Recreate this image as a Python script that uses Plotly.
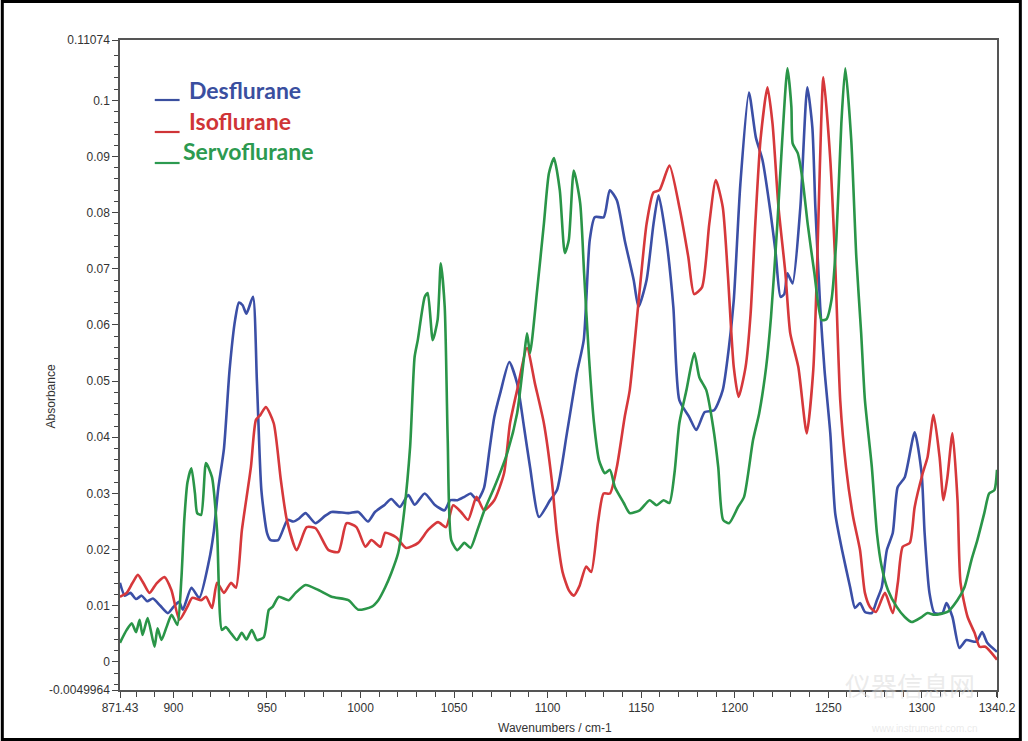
import plotly.graph_objects as go

# ---------------- data ----------------
des_x = [871.4, 874, 877, 880, 883, 886, 889, 893, 897, 900, 903, 905, 909.6, 913.8, 919, 921.5, 924, 927,
         930, 933, 935, 937, 939, 942.5, 944.6, 947, 950, 951.9, 956, 961, 964, 967, 970.6, 975.9, 981, 984.5,
         993.5, 998.8, 1004, 1007.7, 1013, 1016.4, 1021, 1025.5, 1029, 1034.3, 1039.6, 1044.9, 1048, 1051.8,
         1055.5, 1058.8, 1062.5, 1066, 1068.9, 1071.5, 1074.7, 1079.5, 1083.7, 1087.4, 1090.6, 1095.4, 1101.3,
         1105, 1110.3, 1115.6, 1119.3, 1122.5, 1125.2, 1130, 1133.2, 1137, 1141.2, 1146, 1148.6, 1152.9, 1156.6,
         1159.3, 1163.5, 1167.2, 1170.4, 1175.7, 1179.5, 1184, 1189, 1193.6, 1196.9, 1199.5, 1203, 1207.6, 1211.3,
         1214.9, 1219.2, 1221.9, 1224.5, 1226.5, 1228.2, 1230.9, 1235.1, 1238.8, 1241.5, 1243.1, 1245.7, 1248,
         1251.1, 1253.7, 1257.4, 1261.7, 1264.3, 1267, 1269.6, 1273.3, 1276, 1278.6, 1281.3, 1284.5, 1287.1,
         1290.9, 1296.2, 1299.9, 1301.5, 1304.1, 1306.8, 1311, 1313.2, 1316.4, 1320.1, 1323.8, 1329.1, 1332.3,
         1335, 1340.2]
des_y = [0.0141, 0.0118, 0.0123, 0.0112, 0.0118, 0.0108, 0.0113, 0.0100, 0.0087, 0.0098, 0.0107, 0.0093, 0.0132,
         0.0114, 0.018, 0.023, 0.031, 0.038, 0.052, 0.061, 0.064, 0.0635, 0.062, 0.065, 0.050, 0.0306, 0.023,
         0.0217, 0.0217, 0.0253, 0.0250, 0.0255, 0.0265, 0.0247, 0.026, 0.0267, 0.0265, 0.0267, 0.025, 0.0267,
         0.028, 0.029, 0.0276, 0.0297, 0.028, 0.030, 0.028, 0.027, 0.0288, 0.0288, 0.0294, 0.030, 0.0288, 0.031,
         0.0377, 0.0436, 0.0479, 0.0534, 0.0496, 0.0418, 0.0347, 0.0258, 0.0288, 0.0306, 0.0407, 0.0514, 0.0573,
         0.0751, 0.0792, 0.0792, 0.084, 0.0822, 0.0751, 0.068, 0.0632, 0.068, 0.078, 0.0831, 0.0751, 0.0632,
         0.0466, 0.0436, 0.0413, 0.0445, 0.0448, 0.0484, 0.056, 0.0644, 0.085, 0.1014, 0.0934, 0.0893, 0.0799,
         0.0728, 0.065, 0.0655, 0.0692, 0.0674, 0.081, 0.1023, 0.0952, 0.081, 0.0632, 0.052, 0.0407, 0.0265,
         0.0199, 0.0133, 0.0096, 0.0105, 0.0089, 0.0087, 0.011, 0.0133, 0.0199, 0.023, 0.0311, 0.0329, 0.0409,
         0.0336, 0.023, 0.0123, 0.0087, 0.0087, 0.0105, 0.008, 0.0025, 0.0039, 0.0036, 0.0053, 0.0034, 0.0018]

iso_x = [871.4, 875, 878, 881, 884, 887.2, 891, 895.2, 898.9, 903.2, 907.4, 910, 914.8, 917.4, 920.6, 923.3, 927,
         930.8, 933.4, 936.6, 941.4, 944.1, 946.5, 949.4, 953.6, 957.4, 960.6, 965.9, 971.2, 976, 982.9, 988.2,
         992.5, 997.8, 1002.6, 1005.8, 1010.6, 1013.2, 1019, 1024.4, 1030.8, 1036.1, 1041.4, 1045.7, 1049.5,
         1053.7, 1057.5, 1062, 1066, 1071.5, 1076.7, 1079.9, 1083.7, 1089, 1093.2, 1098, 1102.2, 1104.9, 1108,
         1111.3, 1114, 1117, 1120.6, 1123.3, 1127, 1129.9, 1133.3, 1137, 1141.2, 1143.9, 1149.2, 1152.9, 1156.6,
         1159.8, 1165.1, 1170.4, 1175.2, 1178.3, 1182.5, 1186.4, 1189.9, 1193.6, 1196.3, 1199.5, 1202.1, 1205.8,
         1208.5, 1211, 1213.8, 1217.5, 1220.2, 1223.4, 1227.1, 1229.7, 1234, 1238.5, 1242, 1244, 1245.5, 1247.4,
         1251, 1253.6, 1256.4, 1259.5, 1263.3, 1267, 1269.6, 1272.3, 1275.5, 1280.3, 1284.5, 1287.2, 1289.8,
         1293.6, 1296.2, 1300.5, 1303.1, 1306.3, 1309.5, 1311.6, 1313.7, 1316.4, 1319.1, 1320.7, 1324.5, 1328.2,
         1330.9, 1334, 1340.2]
iso_y = [0.0116, 0.0123, 0.014, 0.0155, 0.014, 0.0123, 0.014, 0.0151, 0.0128, 0.0075, 0.0098, 0.0114, 0.011,
         0.0116, 0.0096, 0.0141, 0.0123, 0.0141, 0.0132, 0.0235, 0.0347, 0.0431, 0.044, 0.0454, 0.0425, 0.0324,
         0.0253, 0.0199, 0.024, 0.0238, 0.0199, 0.0196, 0.0247, 0.024, 0.0205, 0.0217, 0.0205, 0.023, 0.0222,
         0.0203, 0.0212, 0.0235, 0.0249, 0.024, 0.0279, 0.0267, 0.0253, 0.0294, 0.027, 0.0288, 0.0336, 0.0425,
         0.0484, 0.0559, 0.0496, 0.0425, 0.0324, 0.023, 0.016, 0.0128, 0.0118, 0.0135, 0.017, 0.016, 0.025, 0.030,
         0.030, 0.0347, 0.0436, 0.0484, 0.0662, 0.078, 0.0836, 0.084, 0.0884, 0.081, 0.0721, 0.0655, 0.0667,
         0.078, 0.0858, 0.081, 0.0692, 0.0525, 0.0472, 0.0525, 0.062, 0.078, 0.093, 0.1023, 0.0959, 0.081, 0.0692,
         0.0585, 0.0525, 0.0407, 0.052, 0.07, 0.088, 0.1041, 0.0899, 0.0721, 0.0466, 0.0347, 0.0258, 0.0199,
         0.0123, 0.0098, 0.0089, 0.0123, 0.0087, 0.0141, 0.0205, 0.0212, 0.0276, 0.0336, 0.0365, 0.044, 0.0365,
         0.0288, 0.0329, 0.0407, 0.0288, 0.0141, 0.008, 0.0052, 0.0027, 0.0027, 0.0004]

sev_x = [871.4, 875, 877.7, 880, 881.9, 883.5, 886.2, 889.9, 891.5, 893.6, 896.3, 899, 902.1, 904.2, 905.8, 907.5,
         909.6, 911.5, 912.7, 914.8, 917.4, 920.6, 923.3, 925.9, 928, 931, 933.9, 936.5, 939, 941.9, 944.6, 948.3,
         951, 953, 956.3, 961.6, 965.3, 970.6, 977.5, 984.5, 993.5, 998.8, 1005.8, 1009.5, 1013.2, 1016.4, 1020.1,
         1022.8, 1026.5, 1028.9, 1030.6, 1034.3, 1035.9, 1038.6, 1041.2, 1042.9, 1045, 1046.6, 1048.5, 1051.8,
         1055.5, 1058.8, 1062.5, 1066.2, 1071.5, 1078.4, 1083.7, 1087.4, 1089, 1090.6, 1094.4, 1098, 1100.7,
         1103.4, 1106.5, 1109.2, 1111.3, 1114, 1117.4, 1119.5, 1122.1, 1124.8, 1127.5, 1130.6, 1133.3, 1136,
         1140.7, 1143.9, 1149.2, 1154.5, 1158.2, 1162, 1165.1, 1167.8, 1170.4, 1174.2, 1178.4, 1181.1, 1184.8,
         1188.5, 1191.2, 1193.8, 1197, 1201.8, 1205, 1209.8, 1213.1, 1216.8, 1219.4, 1222.8, 1225.4, 1228.2,
         1230.3, 1231, 1233.7, 1236.3, 1239, 1242.6, 1246.4, 1249, 1251.7, 1254.3, 1257, 1259.1, 1262.3, 1265,
         1267.6, 1269.6, 1273.3, 1276, 1278.6, 1281.9, 1286.6, 1290.9, 1294.6, 1299.9, 1303.1, 1306.8, 1313.7,
         1319, 1322.8, 1326.5, 1329.7, 1333.4, 1336, 1338.8, 1340.2]
sev_y = [0.0034, 0.0057, 0.0069, 0.0053, 0.0075, 0.0048, 0.0078, 0.0027, 0.006, 0.0039, 0.0062, 0.0084, 0.0066,
         0.0146, 0.0253, 0.032, 0.0345, 0.030, 0.0265, 0.0262, 0.0354, 0.0329, 0.0235, 0.0057, 0.0062, 0.0050,
         0.0039, 0.0052, 0.0040, 0.0057, 0.0039, 0.0044, 0.0093, 0.0098, 0.0116, 0.011, 0.0123, 0.0137, 0.0128,
         0.0116, 0.011, 0.0093, 0.0098, 0.011, 0.0133, 0.0158, 0.0194, 0.0253, 0.0383, 0.0543, 0.0573, 0.065,
         0.0657, 0.0573, 0.0609, 0.071, 0.0632, 0.0395, 0.0217, 0.0199, 0.0212, 0.0203, 0.0235, 0.027, 0.0311,
         0.0372, 0.0443, 0.0543, 0.0585, 0.055, 0.0662, 0.078, 0.087, 0.0897, 0.084, 0.0728, 0.0751, 0.0875,
         0.0817, 0.0692, 0.0543, 0.0425, 0.0359, 0.0336, 0.0342, 0.0311, 0.0283, 0.0265, 0.027, 0.0288, 0.0279,
         0.0288, 0.0283, 0.0336, 0.0425, 0.0484, 0.055, 0.0507, 0.0484, 0.0418, 0.0347, 0.0253, 0.0247, 0.0276,
         0.0294, 0.0395, 0.0443, 0.0525, 0.0614, 0.078, 0.0929, 0.1057, 0.0988, 0.0923, 0.0906, 0.0858, 0.078,
         0.0692, 0.0609, 0.061, 0.0644, 0.0751, 0.0959, 0.1057, 0.0929, 0.0721, 0.0585, 0.0466, 0.0347, 0.023,
         0.0169, 0.0128, 0.0098, 0.008, 0.0071, 0.008, 0.0087, 0.0084, 0.0089, 0.011, 0.0133, 0.0181, 0.0217,
         0.0265, 0.03, 0.0306, 0.0342]

series_names = ["Desflurane", "Isoflurane", "Servoflurane"]

x_tick_vals = [871.43, 900, 950, 1000, 1050, 1100, 1150, 1200, 1250, 1300, 1340.2]
x_tick_text = ["871.43", "900", "950", "1000", "1050", "1100", "1150", "1200", "1250", "1300", "1340.2"]
y_tick_vals = [-0.0049964, 0, 0.01, 0.02, 0.03, 0.04, 0.05, 0.06, 0.07, 0.08, 0.09, 0.1, 0.11074]
y_tick_text = ["-0.0049964", "0", "0.01", "0.02", "0.03", "0.04", "0.05", "0.06", "0.07", "0.08", "0.09", "0.1",
               "0.11074"]
x_range = [871.43, 1340.2]
y_range = [-0.0049964, 0.11074]

# ---------------- styling ----------------
line_colors = ["#3b4fa6", "#d6383b", "#2a9548"]
text_colors = ["#3a4f9f", "#cf3437", "#2c9a50"]
W, H = 1028, 741
ML, MR, MT, MB = 120, 25, 40, 51
PW, PH = W - ML - MR, H - MT - MB


def px_x(p):
    return (p - ML) / PW


def px_y(p):
    return 1 - (p - MT) / PH


fig = go.Figure()
for xs, ys, name, col in zip([des_x, iso_x, sev_x], [des_y, iso_y, sev_y], series_names, line_colors):
    fig.add_trace(go.Scatter(x=xs, y=ys, mode="lines", name=name,
                             line=dict(color=col, width=2.6, shape="spline", smoothing=0.6),
                             showlegend=False))

narrow = "Liberation Sans Narrow, Arial Narrow, Liberation Sans, Arial"
tick_font = dict(family=narrow, size=12, color="#333333")

x_minor = [v for v in range(880, 1341, 10) if v % 50 != 0]
y_minor = [round(-0.004 + 0.002 * i, 4) for i in range(58) if round((-0.004 + 0.002 * i) * 1000) % 10 != 0]

fig.update_layout(
    width=W, height=H,
    margin=dict(l=ML, r=MR, t=MT, b=MB),
    paper_bgcolor="white", plot_bgcolor="white",
    xaxis=dict(range=x_range, tickmode="array", tickvals=x_tick_vals, ticktext=x_tick_text,
               ticks="outside", ticklen=6, tickwidth=1.3, tickcolor="#444444",
               showline=True, linecolor="#555555", linewidth=1.5, mirror=True,
               showgrid=False, zeroline=False, tickfont=tick_font,
               minor=dict(tickmode="array", tickvals=x_minor, ticks="outside", ticklen=5,
                          tickwidth=1.3, tickcolor="#444444", showgrid=False)),
    yaxis=dict(range=y_range, tickmode="array", tickvals=y_tick_vals, ticktext=y_tick_text,
               ticks="outside", ticklen=6, tickwidth=1.3, tickcolor="#444444",
               showline=True, linecolor="#555555", linewidth=1.5, mirror=True,
               showgrid=False, zeroline=False, tickfont=tick_font,
               minor=dict(tickmode="array", tickvals=y_minor, ticks="outside", ticklen=4,
                          tickwidth=1.3, tickcolor="#444444", showgrid=False)),
)

# axis titles
fig.add_annotation(text="Absorbance", xref="paper", yref="paper", x=px_x(51), y=px_y(396),
                   textangle=-90, showarrow=False, xanchor="center", yanchor="middle",
                   font=dict(family=narrow, size=12, color="#333333"))
fig.add_annotation(text="Wavenumbers / cm-1", xref="paper", yref="paper", x=px_x(558), y=px_y(728),
                   showarrow=False, xanchor="center", yanchor="middle",
                   font=dict(family=narrow, size=12, color="#333333"))

# legend: short coloured bar + bold coloured name
legend_rows = [(series_names[0], text_colors[0], 187, 90, 100),
               (series_names[1], text_colors[1], 187, 121, 132),
               (series_names[2], text_colors[2], 181, 151, 163)]
for name, col, tx, yc, yl in legend_rows:
    fig.add_shape(type="line", xref="paper", yref="paper", x0=px_x(155), x1=px_x(180),
                  y0=px_y(yl), y1=px_y(yl), line=dict(color=col, width=2.2))
    fig.add_annotation(text="<b>" + name + "</b>", xref="paper", yref="paper", x=px_x(tx), y=px_y(yc),
                       showarrow=False, xanchor="left", yanchor="middle",
                       font=dict(family="Lato, Open Sans, sans-serif", size=23, color=col))

# faint watermark
fig.add_annotation(text="仪器信息网", xref="paper", yref="paper", x=px_x(915), y=px_y(684),
                   showarrow=False, xanchor="center", yanchor="middle",
                   font=dict(family="Noto Sans CJK SC", size=26, color="rgba(215,215,215,0.5)"))
fig.add_annotation(text="www.instrument.com.cn", xref="paper", yref="paper", x=px_x(930), y=px_y(728),
                   showarrow=False, xanchor="center", yanchor="middle",
                   font=dict(family="Liberation Sans", size=10, color="rgba(215,215,215,0.5)"))

# outer black frame of the image
fig.add_shape(type="rect", xref="paper", yref="paper",
              x0=px_x(1.5), x1=px_x(W - 1.5), y0=px_y(H - 1.5), y1=px_y(1.5),
              line=dict(color="black", width=3), fillcolor="rgba(0,0,0,0)", layer="above")

fig.write_html("out.html", config={"displayModeBar": False},
               post_script="document.body.style.margin='0px';document.body.style.overflow='hidden';")
